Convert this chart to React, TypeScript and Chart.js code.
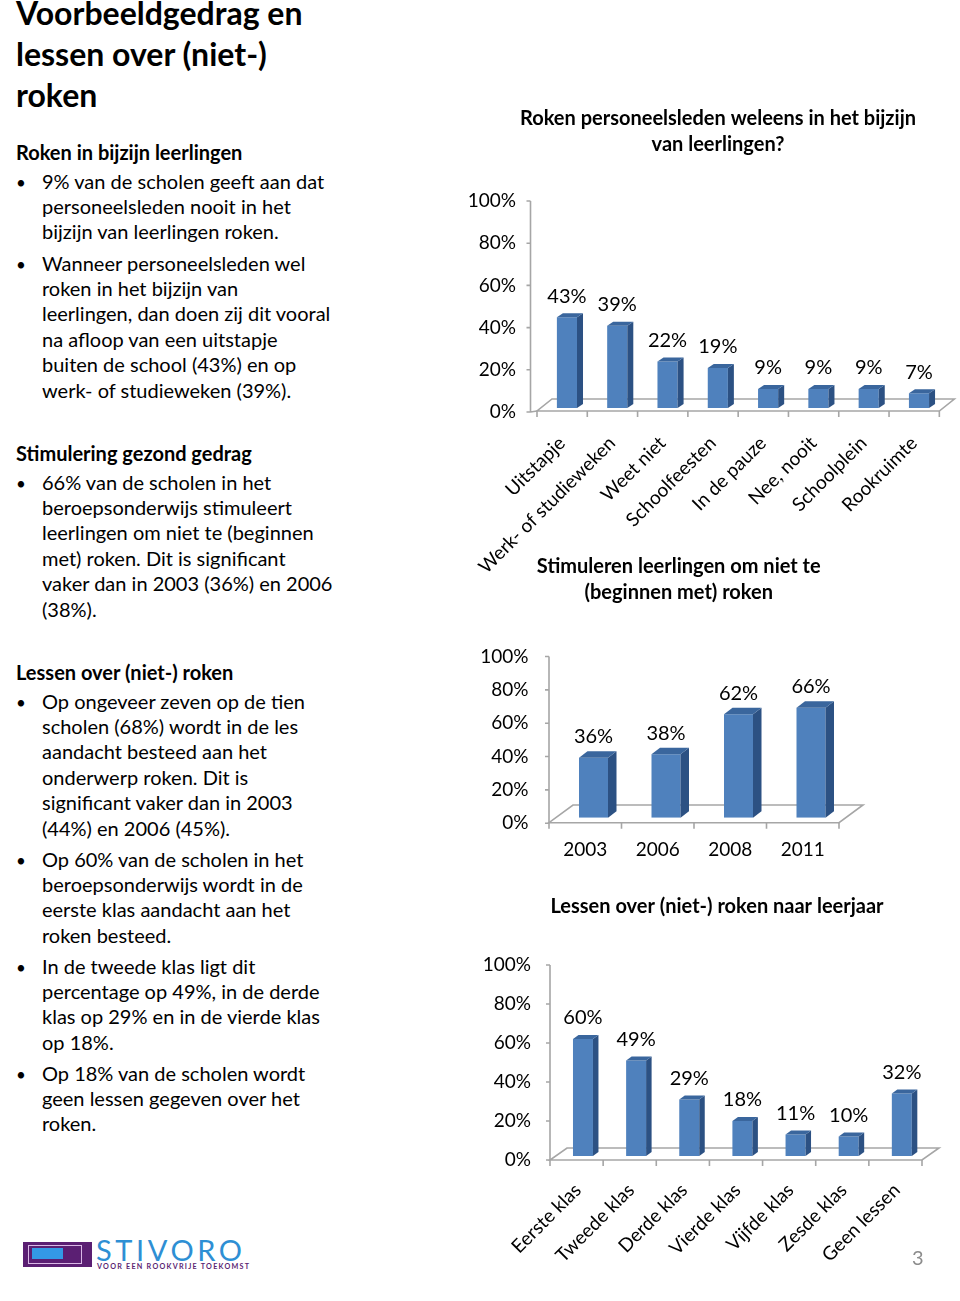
import React, { useEffect, useRef } from "react";
import { Chart, registerables } from "chart.js";

Chart.register(...registerables);

// ---------- data ----------
const smokingPlaces = [
  "Uitstapje",
  "Werk- of studieweken",
  "Weet niet",
  "Schoolfeesten",
  "In de pauze",
  "Nee, nooit",
  "Schoolplein",
  "Rookruimte",
];
const smokingShares = [43, 39, 22, 19, 9, 9, 9, 7];

const stimulateYears = ["2003", "2006", "2008", "2011"];
const stimulateShares = [36, 38, 62, 66];

const lessonGrades = [
  "Eerste klas",
  "Tweede klas",
  "Derde klas",
  "Vierde klas",
  "Vijfde klas",
  "Zesde klas",
  "Geen lessen",
];
const lessonShares = [60, 49, 29, 18, 11, 10, 32];

const percentTicks = [0, 20, 40, 60, 80, 100];

const smokingTitle = ["Roken personeelsleden weleens in het bijzijn", "van leerlingen?"];
const stimulateTitle = ["Stimuleren leerlingen om niet te", "(beginnen met) roken"];
const lessonTitle = ["Lessen over (niet-) roken naar leerjaar"];

// ---------- style ----------
const FONT = "Lato, 'Noto Sans', sans-serif";
const TICK_FS = 19;
const TITLE_FS = 20;
const TITLE_LH = 26;
const FRONT = "#4F81BD";
const SIDE = "#2C5183";
const TOP = "#3A669D";
const LINE = "#A6A6A6";

type Geo = {
  left: number; top: number; width: number; height: number;
  areaL: number; areaR: number; y100: number; y0: number;
  titleY: number; titleX: number;
  labelRight: number; yLabelOff: number;
  rot: number; xLabelY: number; xLabelOff: number;
  barPct: number; barDx: number; barDy: number;
  floorShift: number; frontOff: number; backOff: number; floorDx: number; axisOff: number;
};

const geoSmoking: Geo = {
  left: 460, top: 100, width: 500, height: 480,
  areaL: 541.8, areaR: 944.8, y100: 197, y0: 408,
  titleY: 119, titleX: 718,
  labelRight: 516, yLabelOff: 4,
  rot: 45, xLabelY: 440, xLabelOff: -5,
  barPct: 0.4, barDx: 6, barDy: 4,
  floorShift: -4.8, frontOff: 3, backOff: 9, floorDx: 15, axisOff: -6.5,
};

const geoStimulate: Geo = {
  left: 460, top: 545, width: 430, height: 330,
  areaL: 557.25, areaR: 847.25, y100: 651, y0: 817.7,
  titleY: 567, titleX: 678.75,
  labelRight: 528.5, yLabelOff: 5.5,
  rot: 0, xLabelY: 850, xLabelOff: -8.25,
  barPct: 0.4, barDx: 8.5, barDy: 6.5,
  floorShift: -8.25, frontOff: 5, backOff: 12.7, floorDx: 24, axisOff: 0,
};

const geoLessons: Geo = {
  left: 460, top: 880, width: 500, height: 421,
  areaL: 556.4, areaR: 928.4, y100: 961, y0: 1156,
  titleY: 907, titleX: 717,
  labelRight: 531, yLabelOff: 4,
  rot: 45, xLabelY: 1187, xLabelOff: -5,
  barPct: 0.376, barDx: 5.5, barDy: 4,
  floorShift: -6.4, frontOff: 4, backOff: 8, floorDx: 17, axisOff: 0,
};

const bar3dPlugin = {
  id: "bar3d",
  beforeDatasetsDraw(chart: any, _a: any, o: any) {
    const { ctx } = chart;
    const xs = chart.scales.x;
    const ys = chart.scales.y;
    const n = chart.data.labels.length;
    const cw = (xs.right - xs.left) / n;
    const base = ys.getPixelForValue(0);
    const x0 = xs.left + o.floorShift;
    const x1 = x0 + n * cw;
    const yf = base + o.frontOff;
    const yb = base - o.backOff;
    ctx.save();
    ctx.strokeStyle = LINE;
    ctx.lineWidth = 1.6;
    ctx.beginPath();
    ctx.moveTo(x0, yf);
    ctx.lineTo(x1, yf);
    ctx.lineTo(x1 + o.floorDx, yb);
    ctx.lineTo(x0 + o.floorDx, yb);
    ctx.closePath();
    ctx.stroke();
    ctx.beginPath();
    for (let i = 0; i <= n; i++) {
      const x = x0 + i * cw;
      ctx.moveTo(x, yf);
      ctx.lineTo(x, yf + 6);
    }
    const ax = x0 + o.axisOff;
    const yTop = ys.getPixelForValue(100) + o.yLabelOff;
    const yBot = ys.getPixelForValue(0) + o.yLabelOff;
    ctx.moveTo(ax, yTop);
    ctx.lineTo(ax, yBot);
    ys.ticks.forEach((t: any) => {
      const y = ys.getPixelForValue(t.value) + o.yLabelOff;
      ctx.moveTo(ax - 4, y);
      ctx.lineTo(ax, y);
    });
    if (o.axisOff !== 0) {
      ctx.moveTo(ax, yBot);
      ctx.lineTo(x0, yf);
    }
    ctx.stroke();
    ctx.restore();
  },
  afterDatasetsDraw(chart: any, _a: any, o: any) {
    const { ctx } = chart;
    const meta = chart.getDatasetMeta(0);
    const values = chart.data.datasets[0].data;
    ctx.save();
    meta.data.forEach((bar: any, i: number) => {
      const { x, y, base, width } = bar.getProps(["x", "y", "base", "width"], true);
      const l = x - width / 2;
      const r = x + width / 2;
      const dx = o.barDx;
      const dy = o.barDy;
      ctx.fillStyle = SIDE;
      ctx.beginPath();
      ctx.moveTo(r, y);
      ctx.lineTo(r + dx, y - dy);
      ctx.lineTo(r + dx, base - dy);
      ctx.lineTo(r, base);
      ctx.closePath();
      ctx.fill();
      ctx.fillStyle = TOP;
      ctx.beginPath();
      ctx.moveTo(l, y);
      ctx.lineTo(l + dx, y - dy);
      ctx.lineTo(r + dx, y - dy);
      ctx.lineTo(r, y);
      ctx.closePath();
      ctx.fill();
      ctx.fillStyle = "#000";
      ctx.font = `${TICK_FS + 1}px ${FONT}`;
      ctx.textAlign = "center";
      ctx.textBaseline = "middle";
      ctx.fillText(values[i] + "%", x, y - 21);
    });
    ctx.restore();
  },
  afterDraw(chart: any, _a: any, o: any) {
    const { ctx } = chart;
    ctx.save();
    ctx.fillStyle = "#000";
    ctx.font = `bold ${TITLE_FS}px ${FONT}`;
    ctx.textAlign = "center";
    ctx.textBaseline = "middle";
    (o.titleLines || []).forEach((line: string, i: number) => {
      ctx.fillText(line, o.titleX, o.titleY + i * TITLE_LH);
    });
    ctx.restore();
  },
};

function buildConfig(labels: string[], values: number[], title: string[], g: Geo): any {
  const W = g.width;
  const H = g.height;
  const L = g.areaL - g.left;
  const R = g.areaR - g.left;
  const T = g.y100 - g.top;
  const B = g.y0 - g.top;
  const padR = W - R;
  const yW = L;
  const yPad = L - (g.labelRight - g.left);
  const xH = H - B;
  const tickLH = TICK_FS * 1.2;
  const xPad = g.rot
    ? g.xLabelY - g.top - B - (Math.SQRT1_2 * tickLH) / 2
    : g.xLabelY - g.top - B - tickLH / 2;
  return {
    type: "bar",
    data: {
      labels,
      datasets: [
        {
          data: values,
          backgroundColor: FRONT,
          borderWidth: 0,
          barPercentage: g.barPct,
          categoryPercentage: 1,
        },
      ],
    },
    options: {
      responsive: false,
      animation: false,
      devicePixelRatio: 1,
      layout: { padding: { left: 0, right: padR, top: T, bottom: 0 } },
      plugins: {
        legend: { display: false },
        tooltip: { enabled: false },
        title: { display: false },
        bar3d: {
          barDx: g.barDx, barDy: g.barDy, floorShift: g.floorShift, frontOff: g.frontOff,
          backOff: g.backOff, floorDx: g.floorDx, axisOff: g.axisOff, yLabelOff: g.yLabelOff,
          titleLines: title, titleX: g.titleX - g.left, titleY: g.titleY - g.top,
        },
      },
      scales: {
        x: {
          grid: { display: false, drawTicks: false },
          border: { display: false },
          ticks: {
            color: "#000",
            font: { family: FONT, size: TICK_FS },
            padding: xPad,
            labelOffset: g.xLabelOff,
            minRotation: g.rot,
            maxRotation: g.rot,
            autoSkip: false,
          },
          afterFit: (s: any) => { s.height = xH; },
        },
        y: {
          min: 0,
          max: 100,
          grid: { display: false, drawTicks: false },
          border: { display: false },
          ticks: {
            color: "#000",
            font: { family: FONT, size: TICK_FS },
            padding: yPad,
            labelOffset: g.yLabelOff,
            callback: (v: any) => v + "%",
          },
          afterBuildTicks: (s: any) => { s.ticks = percentTicks.map((v) => ({ value: v })); },
          afterFit: (s: any) => { s.width = yW; },
        },
      },
    },
    plugins: [bar3dPlugin],
  };
}

function BarChart({ labels, values, title, geo }: { labels: string[]; values: number[]; title: string[]; geo: Geo }) {
  const ref = useRef<HTMLCanvasElement | null>(null);
  useEffect(() => {
    if (!ref.current) return;
    const chart = new Chart(ref.current, buildConfig(labels, values, title, geo));
    return () => chart.destroy();
  }, []);
  return (
    <canvas
      ref={ref}
      width={geo.width}
      height={geo.height}
      style={{ position: "absolute", left: geo.left, top: geo.top, width: geo.width, height: geo.height }}
    />
  );
}

// ---------- left column text ----------
const ASC = 0.387;
const BODY_FS = 20;
const BODY_LH = 25.4;

type Block = { kind: "title" | "head" | "bullet"; baseline: number; lines: string[] };

const textBlocks: Block[] = [
  { kind: "title", baseline: 25, lines: ["Voorbeeldgedrag en", "lessen over (niet-)", "roken"] },
  { kind: "head", baseline: 160, lines: ["Roken in bijzijn leerlingen"] },
  { kind: "bullet", baseline: 189, lines: ["9% van de scholen geeft aan dat", "personeelsleden nooit in het", "bijzijn van leerlingen roken."] },
  { kind: "bullet", baseline: 271, lines: ["Wanneer personeelsleden wel", "roken in het bijzijn van", "leerlingen, dan doen zij dit vooral", "na afloop van een uitstapje", "buiten de school (43%) en op", "werk- of studieweken (39%)."] },
  { kind: "head", baseline: 461, lines: ["Stimulering gezond gedrag"] },
  { kind: "bullet", baseline: 490, lines: ["66% van de scholen in het", "beroepsonderwijs stimuleert", "leerlingen om niet te (beginnen", "met) roken. Dit is significant", "vaker dan in 2003 (36%) en 2006", "(38%)."] },
  { kind: "head", baseline: 680, lines: ["Lessen over (niet-) roken"] },
  { kind: "bullet", baseline: 709, lines: ["Op ongeveer zeven op de tien", "scholen (68%) wordt in de les", "aandacht besteed aan het", "onderwerp roken. Dit is", "significant vaker dan in 2003", "(44%) en 2006 (45%)."] },
  { kind: "bullet", baseline: 867, lines: ["Op 60% van de scholen in het", "beroepsonderwijs wordt in de", "eerste klas aandacht aan het", "roken besteed."] },
  { kind: "bullet", baseline: 974, lines: ["In de tweede klas ligt dit", "percentage op 49%, in de derde", "klas op 29% en in de vierde klas", "op 18%."] },
  { kind: "bullet", baseline: 1081, lines: ["Op 18% van de scholen wordt", "geen lessen gegeven over het", "roken."] },
];

function TextLines({ x, baseline, lines, fs, lh, bold, color, weight, spacing }: any) {
  const top = baseline - lh / 2 - ASC * fs;
  return (
    <div
      style={{
        position: "absolute", left: x, top, fontSize: fs, lineHeight: lh + "px",
        fontWeight: weight || (bold ? 700 : 400), whiteSpace: "nowrap", color: color || "#000",
        letterSpacing: spacing || 0,
      }}
    >
      {lines.map((l: string, i: number) => (
        <div key={i}>{l}</div>
      ))}
    </div>
  );
}

export default function App() {
  useEffect(() => {
    document.body.style.overflow = "hidden";
  }, []);
  return (
    <div
      style={{
        position: "absolute", left: 0, top: 0, width: 960, height: 1301,
        background: "#fff", fontFamily: FONT, overflow: "hidden",
      }}
    >
      {textBlocks.map((b, i) => {
        if (b.kind === "title") {
          return <TextLines key={i} x={16} baseline={b.baseline} lines={b.lines} fs={32} lh={41} bold />;
        }
        if (b.kind === "head") {
          return <TextLines key={i} x={16} baseline={b.baseline} lines={b.lines} fs={BODY_FS} lh={BODY_LH} bold />;
        }
        return (
          <React.Fragment key={i}>
            <TextLines x={16} baseline={b.baseline} lines={["•"]} fs={17} lh={BODY_LH} />
            <TextLines x={42} baseline={b.baseline} lines={b.lines} fs={BODY_FS} lh={BODY_LH} />
          </React.Fragment>
        );
      })}

      <BarChart labels={smokingPlaces} values={smokingShares} title={smokingTitle} geo={geoSmoking} />
      <BarChart labels={stimulateYears} values={stimulateShares} title={stimulateTitle} geo={geoStimulate} />
      <BarChart labels={lessonGrades} values={lessonShares} title={lessonTitle} geo={geoLessons} />

      {/* logo */}
      <div style={{ position: "absolute", left: 22.7, top: 1241.7, width: 69, height: 25, background: "#5B1F73" }} />
      <div style={{ position: "absolute", left: 28.3, top: 1245, width: 52, height: 17, border: "1px solid #D9B8E6" }} />
      <div style={{ position: "absolute", left: 31.7, top: 1248.3, width: 31.6, height: 11, background: "#3399E6" }} />
      <TextLines x={96} baseline={1261.7} lines={["STIVORO"]} fs={29} lh={30} color="#2E8FD4" weight={400} spacing={3.6} />
      <div
        style={{
          position: "absolute", left: 97, top: 1263, fontSize: 7.2, lineHeight: "8px",
          fontWeight: 700, color: "#5B1F73", letterSpacing: 1.25, whiteSpace: "nowrap",
        }}
      >
        VOOR EEN ROOKVRIJE TOEKOMST
      </div>
      <TextLines x={912} baseline={1265} lines={["3"]} fs={20} lh={24} color="#8C8C8C" />
    </div>
  );
}
